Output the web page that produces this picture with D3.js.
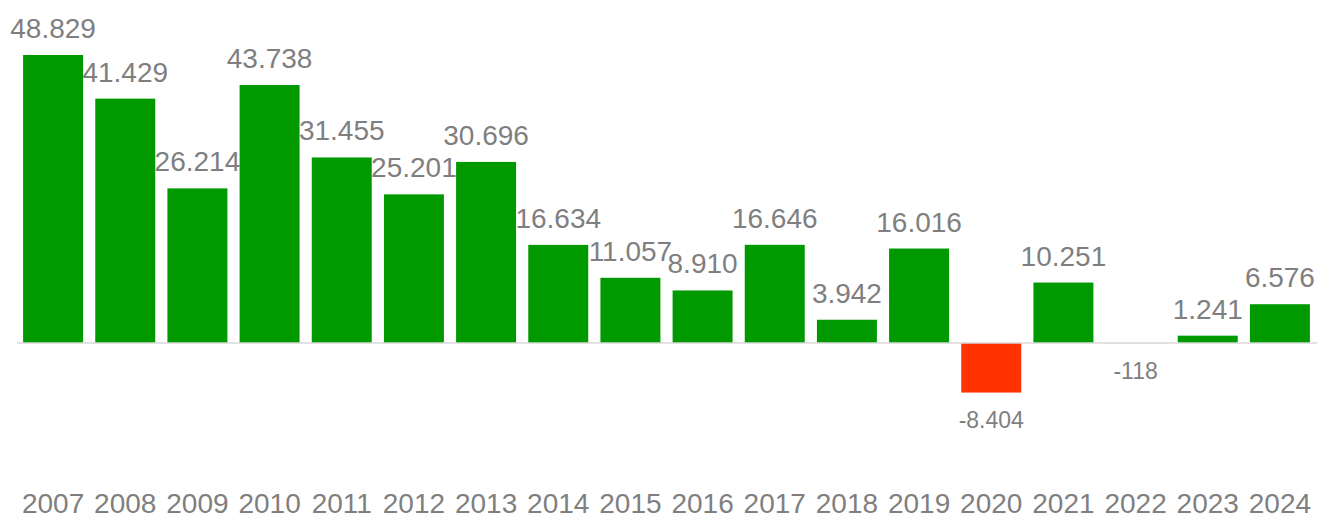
<!DOCTYPE html>
<html>
<head>
<meta charset="utf-8">
<script src="https://cdn.jsdelivr.net/npm/d3@7"></script>
<style>
  body { margin: 0; background: #fff; }
  text { font-family: "Liberation Sans", Arial, sans-serif; fill: #7f7f7f; }
</style>
</head>
<body>
<div id="canvas"></div>
<script>
"use strict"

/* Chart data */
let years = ["2007", "2008", "2009", "2010", "2011", "2012", "2013", "2014", "2015",
    "2016", "2017", "2018", "2019", "2020", "2021", "2022", "2023", "2024"];
let values = [48829, 41429, 26214, 43738, 31455, 25201, 30696, 16634, 11057,
    8910, 16646, 3942, 16016, -8404, 10251, -118, 1241, 6576];

/* Drawing settings */
let svgWidth = 1317;
let svgHeight = 514;
let zeroY = 343;

let svg = d3.select("#canvas")
    .append("svg")
    .attr("width", svgWidth)
    .attr("height", svgHeight);

let fmt = d3.formatLocale({ decimal: ",", thousands: ".", grouping: [3], currency: ["", "€"], minus: "-" }).format(",d");

let xScale = d3.scaleBand()
    .domain(years)
    .range([17, 1316])
    .paddingInner(0.169)
    .paddingOuter(0.0845);

let yScale = d3.scaleLinear()
    .domain([0, 48829])
    .range([zeroY, 55]);

let dataset = years.map(function (y, i) {
    return { year: y, value: values[i] };
});

/* bars */
svg.selectAll("rect.bar")
    .data(dataset)
    .join("rect")
    .attr("class", "bar")
    .attr("x", d => xScale(d.year))
    .attr("width", xScale.bandwidth())
    .attr("y", d => d.value >= 0 ? yScale(d.value) : zeroY)
    .attr("height", d => Math.abs(yScale(d.value) - zeroY))
    .attr("fill", d => d.value >= 0 ? "#009900" : "#ff3300")
    .attr("opacity", d => d.value > -1000 && d.value < 0 ? 0.25 : 1);

/* zero line */
svg.append("line")
    .attr("x1", 17)
    .attr("x2", svgWidth)
    .attr("y1", zeroY)
    .attr("y2", zeroY)
    .attr("stroke", "#d9d9d9")
    .attr("stroke-width", 1.5);

/* value labels */
svg.selectAll("text.val")
    .data(dataset)
    .join("text")
    .attr("class", "val")
    .attr("x", d => xScale(d.year) + xScale.bandwidth() / 2)
    .attr("y", d => d.value >= 0 ? yScale(d.value) - 17 : yScale(d.value) + 35.5)
    .attr("text-anchor", "middle")
    .style("font-size", d => d.value >= 0 ? "28px" : "23px")
    .text(d => fmt(d.value));

/* year labels */
svg.selectAll("text.year")
    .data(years)
    .join("text")
    .attr("class", "year")
    .attr("x", d => xScale(d) + xScale.bandwidth() / 2)
    .attr("y", 512.5)
    .attr("text-anchor", "middle")
    .style("font-size", "28px")
    .text(d => d);
</script>
</body>
</html>
